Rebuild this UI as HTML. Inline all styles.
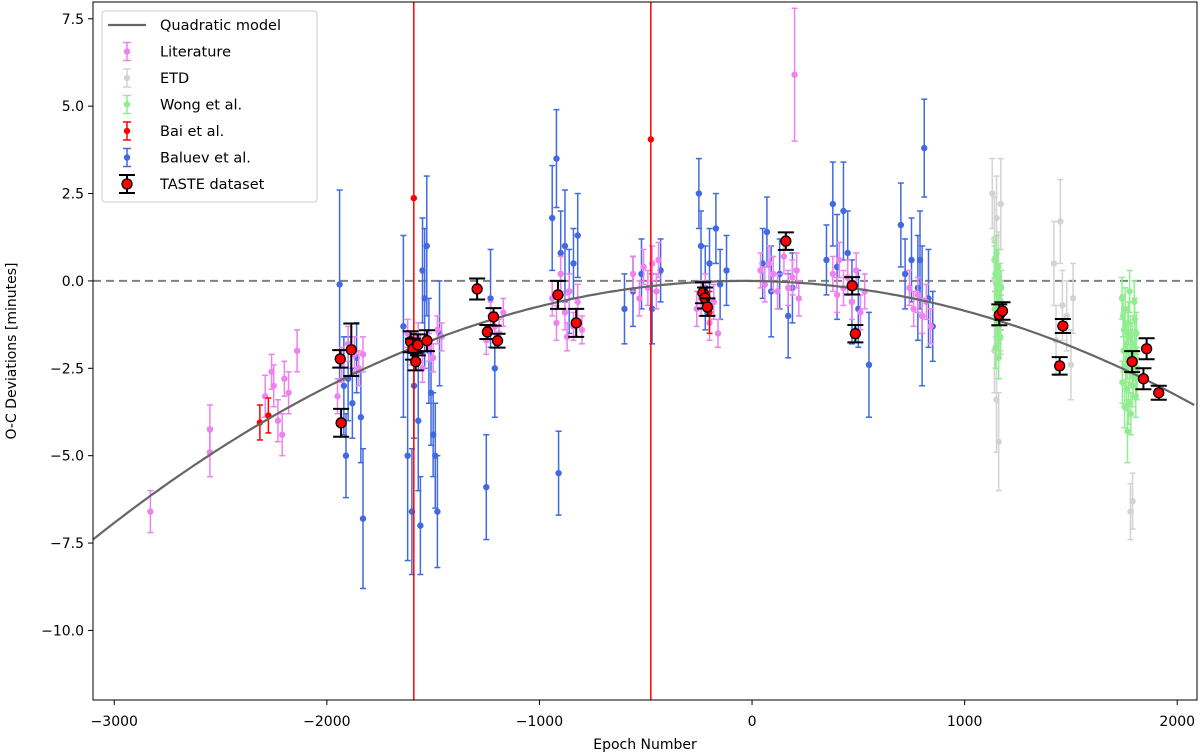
<!DOCTYPE html>
<html><head><meta charset="utf-8">
<style>
html,body{margin:0;padding:0;background:#fff;overflow:hidden;width:1200px;height:756px;}
svg{display:block;font-family:"DejaVu Sans","Liberation Sans",sans-serif;}
</style></head>
<body>
<svg id="chart" width="1200" height="756" viewBox="0 0 1200 756" xmlns="http://www.w3.org/2000/svg">
</svg>
<script>
// ---- data: [epoch, O-C minutes, error] ----
const xTicks=[-3000,-2000,-1000,0,1000,2000];
const yTicks=[7.5,5.0,2.5,0.0,-2.5,-5.0,-7.5,-10.0];
const modelCoef=[-7.9e-7,-40]; // a, vertex epoch
const baluev=[[-1940,-0.1,2.7],[-1920,-3.0,1.4],[-1910,-5.0,1.2],[-1900,-2.8,1.2],[-1880,-3.5,1.0],[-1860,-2.2,1.0],[-1840,-3.9,1.3],[-1830,-6.8,2.0],[-1640,-1.3,2.6],[-1620,-5.0,3.0],[-1600,-6.6,1.8],[-1590,-3.0,1.5],[-1570,-4.0,2.0],[-1560,-7.0,1.4],[-1550,0.3,1.5],[-1540,-0.5,2.0],[-1530,1.0,2.0],[-1520,-2.0,1.5],[-1510,-3.2,1.5],[-1500,-4.4,1.2],[-1490,-5.0,1.5],[-1480,-6.6,1.6],[-1470,-1.5,1.5],[-1250,-5.9,1.5],[-1230,-0.5,1.4],[-1210,-2.5,1.4],[-940,1.8,1.5],[-920,3.5,1.4],[-910,-5.5,1.2],[-900,0.8,1.2],[-880,1.0,1.6],[-860,-0.3,1.2],[-840,0.5,1.0],[-820,1.3,1.2],[-600,-0.8,1.0],[-560,-0.3,1.0],[-520,0.2,1.0],[-470,-0.8,1.0],[-430,0.3,0.9],[-250,2.5,1.0],[-240,1.0,1.0],[-220,-0.2,1.2],[-200,0.5,1.0],[-170,1.5,1.0],[-150,-0.1,1.0],[-120,0.3,1.0],[50,0.5,1.0],[70,1.4,1.0],[90,-0.3,1.3],[130,0.2,1.0],[170,-1.0,1.2],[190,-0.2,1.0],[350,0.6,1.0],[380,2.2,1.2],[400,0.4,1.5],[430,2.0,1.4],[450,0.8,1.2],[470,-0.6,1.2],[500,-0.8,1.1],[550,-2.4,1.5],[700,1.6,1.2],[720,0.2,1.0],[750,0.6,1.2],[780,-0.2,1.5],[790,0.6,1.4],[800,-1.0,2.0],[810,3.8,1.4],[830,-0.5,1.4],[850,-1.3,1.0]];
const literature=[[-2830,-6.6,0.6],[-2550,-4.25,0.7],[-2550,-4.9,0.7],[-2290,-3.3,0.6],[-2260,-2.6,0.5],[-2250,-3.0,0.6],[-2230,-4.0,0.6],[-2210,-4.4,0.6],[-2200,-2.8,0.5],[-2180,-3.2,0.6],[-2140,-2.0,0.6],[-1950,-3.3,0.5],[-1930,-2.4,0.5],[-1900,-1.8,0.5],[-1870,-2.1,0.5],[-1850,-2.5,0.5],[-1830,-2.1,0.5],[-1620,-1.5,0.4],[-1600,-2.0,0.4],[-1570,-1.6,0.4],[-1550,-2.5,0.4],[-1520,-1.9,0.4],[-1500,-2.2,0.4],[-1480,-1.4,0.4],[-1460,-1.6,0.4],[-1250,-1.7,0.4],[-1230,-1.0,0.4],[-1210,-1.3,0.4],[-1190,-1.5,0.4],[-1170,-0.9,0.4],[-940,-0.5,0.5],[-920,-1.2,0.5],[-900,0.2,0.5],[-880,-0.9,0.5],[-870,-1.6,0.4],[-860,-0.3,0.5],[-840,-1.3,0.4],[-820,-0.6,0.5],[-800,-1.4,0.4],[-560,0.2,0.5],[-530,-0.5,0.5],[-510,0.4,0.5],[-490,-0.2,0.5],[-470,0.5,0.5],[-450,-0.3,0.5],[-440,0.6,0.5],[-260,-0.8,0.5],[-240,-0.5,0.5],[-220,-0.3,0.5],[-200,-1.2,0.5],[-180,-0.6,0.5],[-160,-1.5,0.4],[40,0.3,0.5],[60,-0.1,0.5],[80,0.5,0.5],[100,0.2,0.5],[120,-0.3,0.5],[150,0.7,0.5],[170,-0.2,0.5],[190,0.1,0.5],[200,5.9,1.9],[210,0.3,0.5],[220,-0.5,0.5],[380,0.2,0.5],[400,-0.4,0.5],[410,0.6,0.5],[430,-0.2,0.5],[450,0.1,0.5],[470,-0.6,0.5],[490,0.3,0.5],[510,-0.9,0.5],[530,-0.3,0.5],[740,-0.2,0.5],[760,-0.8,0.5],[780,-0.4,0.5],[800,-1.0,0.5],[820,-0.6,0.5],[840,-1.3,0.5],[1160,-1.3,0.5],[1170,-0.9,0.5]];
const etd=[[1130,2.5,1.0],[1140,1.2,1.2],[1150,-3.4,1.5],[1160,-4.6,1.4],[1170,2.2,1.3],[1150,1.8,1.2],[1160,0.4,1.0],[1140,-2.0,1.2],[1170,-1.0,1.0],[1140,0.0,1.0],[1420,0.5,1.2],[1450,1.7,1.2],[1460,-0.7,1.0],[1480,-1.0,1.0],[1500,-2.4,1.0],[1510,-0.5,1.0],[1430,-1.7,1.0],[1780,-6.6,0.8],[1790,-6.3,0.8],[1800,-1.5,1.0]];
const wong=[[1140,0.6,0.5],[1145,0.2,0.5],[1150,-0.1,0.5],[1155,0.4,0.5],[1160,-0.4,0.5],[1165,0.0,0.5],[1170,-0.6,0.5],[1142,-0.8,0.5],[1148,-1.1,0.5],[1152,-0.3,0.5],[1158,-1.3,0.5],[1162,-0.9,0.5],[1168,-1.6,0.5],[1172,-0.2,0.5],[1146,-1.9,0.6],[1156,-0.7,0.5],[1164,-1.2,0.5],[1150,0.8,0.5],[1160,-2.2,0.6],[1154,-1.5,0.5],[1740,-0.5,0.6],[1745,-1.0,0.6],[1750,-1.4,0.6],[1755,-0.8,0.6],[1760,-1.8,0.6],[1765,-2.2,0.6],[1770,-1.2,0.6],[1775,-2.6,0.6],[1780,-1.6,0.6],[1785,-2.0,0.6],[1790,-3.0,0.6],[1795,-2.4,0.6],[1800,-1.1,0.6],[1805,-3.3,0.6],[1810,-2.8,0.6],[1742,-2.9,0.6],[1748,-2.0,0.6],[1752,-3.6,0.6],[1758,-2.5,0.6],[1762,-3.1,0.6],[1768,-1.5,0.6],[1772,-3.5,0.6],[1778,-2.2,0.6],[1782,-3.8,0.6],[1788,-1.8,0.6],[1792,-2.7,0.6],[1798,-0.6,0.6],[1802,-2.0,0.6],[1808,-1.5,0.6],[1812,-2.5,0.6],[1766,-4.3,0.9],[1776,-0.3,0.6]];
const bai=[[-2315,-4.05,0.5],[-2275,-3.85,0.5],[-1591,2.37,40],[-476,4.05,40],[-200,-0.9,0.6]];
const taste=[[-1937,-2.23,0.25],[-1933,-4.06,0.4],[-1885,-1.97,0.75],[-1606,-1.74,0.3],[-1595,-1.95,0.3],[-1582,-2.31,0.25],[-1572,-1.83,0.3],[-1529,-1.71,0.3],[-1293,-0.23,0.3],[-1245,-1.46,0.2],[-1216,-1.03,0.25],[-1197,-1.71,0.2],[-913,-0.4,0.4],[-827,-1.2,0.4],[-231,-0.34,0.3],[-221,-0.49,0.3],[-210,-0.75,0.25],[159,1.14,0.25],[471,-0.14,0.25],[486,-1.51,0.25],[1163,-0.97,0.3],[1178,-0.86,0.25],[1462,-1.29,0.2],[1447,-2.43,0.25],[1788,-2.31,0.3],[1856,-1.94,0.3],[1841,-2.8,0.3],[1913,-3.2,0.2]];

// ---- axes ----
const L=93,R=1197,T=2,B=700;
const X0=-3100,X1=2093,Y0=-11.99,Y1=7.98;
const sx=e=>L+(e-X0)/(X1-X0)*(R-L);
const sy=v=>B-(v-Y0)/(Y1-Y0)*(B-T);
const NS="http://www.w3.org/2000/svg";
const svg=document.getElementById('chart');
function mk(tag,attrs,parent){const el=document.createElementNS(NS,tag);for(const k in attrs)el.setAttribute(k,attrs[k]);(parent||svg).appendChild(el);return el;}
const clampY=y=>Math.max(T,Math.min(B,y));

const clipDefs=mk('defs',{});
const cp=mk('clipPath',{id:'clip'},clipDefs);
mk('rect',{x:L,y:T,width:R-L,height:B-T},cp);
const plot=mk('g',{'clip-path':'url(#clip)'});



const zl=mk('line',{x1:L,x2:R,y1:sy(0),y2:sy(0),stroke:'#808080','stroke-width':2,'stroke-dasharray':'8,5'},plot);



function errbar(g,d,color,cap,w){
  const x=sx(d[0]),r1=sy(d[1]+d[2]),r2=sy(d[1]-d[2]);
  const y1=clampY(r1),y2=clampY(r2);
  mk('line',{x1:x,x2:x,y1:y1,y2:y2,stroke:color,'stroke-width':w},g);
  if(r1===y1) mk('line',{x1:x-cap,x2:x+cap,y1:y1,y2:y1,stroke:color,'stroke-width':w},g);
  if(r2===y2) mk('line',{x1:x-cap,x2:x+cap,y1:y2,y2:y2,stroke:color,'stroke-width':w},g);
}
function series(data,color,name,r){
  const g=mk('g',{},plot);
  
  
  data.forEach(d=>{
    errbar(g,d,color,3,1.5);
    const c=mk('circle',{cx:sx(d[0]),cy:sy(d[1]),r:r,fill:color},g);
    
    
  });
}
series(baluev,'#4169e1','baluev-series',3.2);
series(literature,'#ee82ee','literature-series',3.2);
series(etd,'#d3d3d3','etd-series',3.2);
series(wong,'#90ee90','wong-series',3.2);
series(bai,'#ff0000','bai-series',3.2);

let pd='';
for(let e=X0;e<=X1;e+=20){const v=modelCoef[0]*(e-modelCoef[1])**2;pd+=(pd?'L':'M')+sx(e).toFixed(1)+','+sy(v).toFixed(1);}
const model=mk('path',{d:pd,fill:'none',stroke:'#666','stroke-width':2.2},plot);



const tg=mk('g',{},plot);


taste.forEach(d=>{
  errbar(tg,d,'#000',8,2);
  const c=mk('circle',{cx:sx(d[0]),cy:sy(d[1]),r:5,fill:'#ff0000',stroke:'#000','stroke-width':1.3},tg);
  
  
});

const fr=mk('rect',{x:L,y:T,width:R-L,height:B-T,fill:'none',stroke:'#000','stroke-width':1});



xTicks.forEach(t=>{
  const x=sx(t);
  mk('line',{x1:x,x2:x,y1:B,y2:B+5,stroke:'#000'});
  const tx=mk('text',{x:x,y:B+26,'text-anchor':'middle','font-size':14,fill:'#000'});
  tx.textContent=(t<0?'\u2212'+(-t):t);
  
  
});
yTicks.forEach(t=>{
  const y=sy(t);
  mk('line',{x1:L-5,x2:L,y1:y,y2:y,stroke:'#000'});
  const tx=mk('text',{x:L-9,y:y+5,'text-anchor':'end','font-size':14,fill:'#000'});
  tx.textContent=(t<0?'\u2212'+(-t).toFixed(1):t.toFixed(1));
  
  
});
const xl=mk('text',{x:(L+R)/2,y:749,'text-anchor':'middle','font-size':14,fill:'#000'});
xl.textContent='Epoch Number';


const yl=mk('text',{x:0,y:0,'text-anchor':'middle','font-size':14,fill:'#000',transform:'translate(16,'+((T+B)/2)+') rotate(-90)'});
yl.textContent='O-C Deviations [minutes]';



const lg=mk('g',{});


mk('rect',{x:102,y:11,width:215,height:191,rx:3,fill:'#fff','fill-opacity':0.85,stroke:'#ccc'},lg);
const items=[['Quadratic model','line','#666'],['Literature','pt','#ee82ee'],[' ETD','pt','#d3d3d3'],['Wong et al.','pt','#90ee90'],[' Bai et al.','pt','#ff0000'],['Baluev et al.','pt','#4169e1'],['TASTE dataset','taste','#ff0000']];
items.forEach((it,i)=>{
  const y=25+i*26.5, cx=127;
  const g=mk('g',{},lg);
  
  
  if(it[1]=='line') mk('line',{x1:108,x2:146,y1:y,y2:y,stroke:it[2],'stroke-width':2.2},g);
  else if(it[1]=='pt'){
    mk('line',{x1:cx,x2:cx,y1:y-9,y2:y+9,stroke:it[2],'stroke-width':1.5},g);
    mk('line',{x1:cx-4,x2:cx+4,y1:y-9,y2:y-9,stroke:it[2],'stroke-width':1.5},g);
    mk('line',{x1:cx-4,x2:cx+4,y1:y+9,y2:y+9,stroke:it[2],'stroke-width':1.5},g);
    mk('circle',{cx:cx,cy:y,r:3.2,fill:it[2]},g);
  } else {
    mk('line',{x1:cx,x2:cx,y1:y-9,y2:y+9,stroke:'#000','stroke-width':2},g);
    mk('line',{x1:cx-8,x2:cx+8,y1:y-9,y2:y-9,stroke:'#000','stroke-width':2},g);
    mk('line',{x1:cx-8,x2:cx+8,y1:y+9,y2:y+9,stroke:'#000','stroke-width':2},g);
    mk('circle',{cx:cx,cy:y,r:5,fill:'#ff0000',stroke:'#000','stroke-width':1.3},g);
  }
  const t=mk('text',{x:160,y:y+5,'font-size':14.5,fill:'#000','xml:space':'preserve'},g);
  t.textContent=it[0];
});
</script>
</body></html>
